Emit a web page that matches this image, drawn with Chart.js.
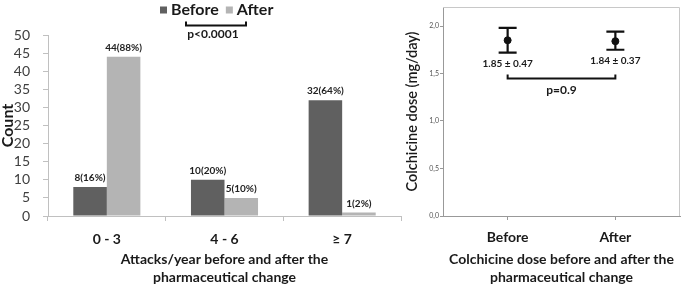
<!DOCTYPE html>
<html>
<head>
<meta charset="utf-8">
<script src="https://cdn.jsdelivr.net/npm/chart.js@4/dist/chart.umd.min.js"></script>
<style>
  html, body { margin: 0; padding: 0; background: #fff; }
  body { width: 685px; height: 287px; position: relative; overflow: hidden; }
  canvas { position: absolute; top: 0; }
  #c1 { left: 0; }
  #c2 { left: 400px; }
</style>
</head>
<body>
<canvas id="c1" width="424" height="287"></canvas>
<canvas id="c2" width="285" height="287"></canvas>
<script>
// ---- Left chart data ----
const attackCategories = ['0 - 3', '4 - 6', '\u2265 7'];
const beforeCounts = [8, 10, 32];
const afterCounts = [44, 5, 1];
const beforeLabels = ['8(16%)', '10(20%)', '32(64%)'];
const afterLabels = ['44(88%)', '5(10%)', '1(2%)'];
const countTicks = [0, 5, 10, 15, 20, 25, 30, 35, 40, 45, 50];
const leftPValue = 'p<0.0001';

// ---- Right chart data ----
const doseGroups = ['Before', 'After'];
const doseMeans = [1.85, 1.84];
const doseUpper = [1.98, 1.94];
const doseLower = [1.72, 1.75];
const doseLabels = ['1.85 \u00b1 0.47', '1.84 \u00b1 0.37'];
const doseTicks = [0, 0.5, 1.0, 1.5, 2.0];
const rightPValue = 'p=0.9';
const rightBracketValue = 1.45;

const FONT = 'Lato, "Open Sans", sans-serif';
const DARK = '#606060';
const LIGHT = '#b4b4b4';

// ---------- Left chart ----------
const leftOverlay = {
  id: 'leftOverlay',
  afterDatasetsDraw(chart) {
    const ctx = chart.ctx;
    ctx.save();
    // data labels
    ctx.font = 'bold 10px ' + FONT;
    ctx.fillStyle = '#222';
    ctx.textAlign = 'center';
    ctx.textBaseline = 'bottom';
    const sets = [beforeLabels, afterLabels];
    sets.forEach((labels, di) => {
      const meta = chart.getDatasetMeta(di);
      meta.data.forEach((bar, i) => {
        ctx.fillText(labels[i], bar.x, bar.y - 4);
      });
    });
    // legend
    const items = [{t: 'Before', c: DARK}, {t: 'After', c: LIGHT}];
    ctx.font = 'bold 16px ' + FONT;
    ctx.textBaseline = 'middle';
    ctx.textAlign = 'left';
    let x = 160;
    const y = 10;
    items.forEach(it => {
      ctx.fillStyle = it.c;
      ctx.fillRect(x, y - 3.5, 7, 7);
      x += 11;
      ctx.fillStyle = '#1a1a1a';
      ctx.fillText(it.t, x, y);
      x += ctx.measureText(it.t).width + 7;
    });
    // bracket
    ctx.strokeStyle = '#111';
    ctx.lineWidth = 2;
    ctx.beginPath();
    ctx.moveTo(186, 21.5);
    ctx.lineTo(186, 25.5);
    ctx.lineTo(246, 25.5);
    ctx.lineTo(246, 21.5);
    ctx.stroke();
    ctx.font = 'bold 12px ' + FONT;
    ctx.fillStyle = '#1a1a1a';
    ctx.textAlign = 'center';
    ctx.fillText(leftPValue, 213, 34);
    ctx.restore();
  }
};

new Chart(document.getElementById('c1'), {
  type: 'bar',
  data: {
    labels: attackCategories,
    datasets: [
      {label: 'Before', data: beforeCounts, backgroundColor: DARK},
      {label: 'After', data: afterCounts, backgroundColor: LIGHT}
    ]
  },
  options: {
    responsive: false,
    animation: false,
    layout: {padding: {left: 0, right: 23, top: 35, bottom: 0}},
    datasets: {bar: {categoryPercentage: 0.57, barPercentage: 1.0}},
    plugins: {legend: {display: false}, tooltip: {enabled: false}},
    scales: {
      x: {
        grid: {offset: true, drawOnChartArea: false, drawTicks: true, tickLength: 5, color: '#c0c0c0'},
        border: {color: '#c0c0c0'},
        ticks: {font: {family: FONT, size: 14, weight: 'bold'}, color: '#1a1a1a', padding: 10, autoSkip: false},
        title: {
          display: true,
          text: ['Attacks/year before and after the', 'pharmaceutical change'],
          font: {family: FONT, size: 14, weight: 'bold', lineHeight: 1.3},
          color: '#1a1a1a',
          padding: {top: 1, bottom: 0}
        },
        afterFit(s) { s.height = 71; }
      },
      y: {
        min: 0, max: 50,
        afterBuildTicks(s) { s.ticks = countTicks.map(v => ({value: v})); },
        grid: {drawOnChartArea: false, drawTicks: true, tickLength: 5, color: '#c0c0c0'},
        border: {color: '#c0c0c0'},
        ticks: {font: {family: FONT, size: 14}, color: '#404040', padding: 13, autoSkip: false},
        title: {display: true, text: 'Count', font: {family: FONT, size: 16, weight: 'bold', lineHeight: 1.0}, color: '#1a1a1a', padding: {top: 0, bottom: 0}},
        afterFit(s) { s.width = 48; }
      }
    }
  },
  plugins: [leftOverlay]
});

// ---------- Right chart ----------
const rightOverlay = {
  id: 'rightOverlay',
  beforeDatasetsDraw(chart) {
    const ctx = chart.ctx;
    const a = chart.chartArea;
    ctx.save();
    ctx.strokeStyle = '#c8c8c8';
    ctx.lineWidth = 1;
    ctx.beginPath();
    ctx.moveTo(a.left, a.top + 0.5);
    ctx.lineTo(a.right - 0.5, a.top + 0.5);
    ctx.lineTo(a.right - 0.5, a.bottom);
    ctx.stroke();
    ctx.restore();
  },
  afterDatasetsDraw(chart) {
    const ctx = chart.ctx;
    const xs = chart.scales.x, ys = chart.scales.y;
    ctx.save();
    ctx.strokeStyle = '#111';
    ctx.lineWidth = 2.2;
    doseGroups.forEach((g, i) => {
      const x = xs.getPixelForValue(i);
      const yt = ys.getPixelForValue(doseUpper[i]);
      const yb = ys.getPixelForValue(doseLower[i]);
      ctx.beginPath();
      ctx.moveTo(x, yt); ctx.lineTo(x, yb);
      ctx.moveTo(x - 9, yt); ctx.lineTo(x + 9, yt);
      ctx.moveTo(x - 9, yb); ctx.lineTo(x + 9, yb);
      ctx.stroke();
      ctx.font = 'bold 10px ' + FONT;
      ctx.fillStyle = '#1a1a1a';
      ctx.textAlign = 'center';
      ctx.textBaseline = 'middle';
      ctx.fillText(doseLabels[i], x, yb + 11.5);
    });
    // bracket
    const x0 = xs.getPixelForValue(0), x1 = xs.getPixelForValue(1);
    const yb = Math.round(ys.getPixelForValue(rightBracketValue)) + 0.5;
    ctx.lineWidth = 2;
    ctx.beginPath();
    ctx.moveTo(x0, yb - 4); ctx.lineTo(x0, yb); ctx.lineTo(x1, yb); ctx.lineTo(x1, yb - 4);
    ctx.stroke();
    ctx.font = 'bold 12px ' + FONT;
    ctx.fillStyle = '#1a1a1a';
    ctx.textAlign = 'center';
    ctx.textBaseline = 'middle';
    ctx.fillText(rightPValue, (x0 + x1) / 2, yb + 12);
    ctx.restore();
  }
};

new Chart(document.getElementById('c2'), {
  type: 'scatter',
  data: {
    datasets: [{
      label: 'Dose',
      data: doseMeans.map((m, i) => ({x: i, y: m})),
      backgroundColor: '#111', borderColor: '#111', pointRadius: 3.5
    }]
  },
  options: {
    responsive: false,
    animation: false,
    layout: {padding: {left: 0, right: 3, top: 7, bottom: 0}},
    plugins: {legend: {display: false}, tooltip: {enabled: false}},
    scales: {
      x: {
        type: 'linear', min: -0.6, max: 1.6,
        afterBuildTicks(s) { s.ticks = doseGroups.map((g, i) => ({value: i})); },
        grid: {drawOnChartArea: false, drawTicks: true, tickLength: 4, color: '#999'},
        border: {color: '#999'},
        ticks: {callback: v => doseGroups[v], font: {family: FONT, size: 14, weight: 'bold'}, color: '#1a1a1a', padding: 9, autoSkip: false},
        title: {
          display: true,
          text: ['Colchicine dose before and after the', 'pharmaceutical change'],
          font: {family: FONT, size: 14, weight: 'bold', lineHeight: 1.3},
          color: '#1a1a1a',
          padding: {top: 1, bottom: 0}
        },
        afterFit(s) { s.height = 71; }
      },
      y: {
        min: 0, max: 2.2,
        afterBuildTicks(s) { s.ticks = doseTicks.map(v => ({value: v})); },
        grid: {drawOnChartArea: false, drawTicks: true, tickLength: 3, color: '#999'},
        border: {color: '#999'},
        ticks: {callback: v => v.toFixed(1).replace('.', ','), font: {family: FONT, size: 7}, color: '#555', padding: 1, autoSkip: false},
        title: {display: true, text: 'Colchicine dose (mg/day)', font: {family: FONT, size: 14.5, weight: '600'}, color: '#1a1a1a', padding: {top: 4, bottom: 0}},
        afterFit(s) { s.width = 43; }
      }
    }
  },
  plugins: [rightOverlay]
});
</script>
</body>
</html>
